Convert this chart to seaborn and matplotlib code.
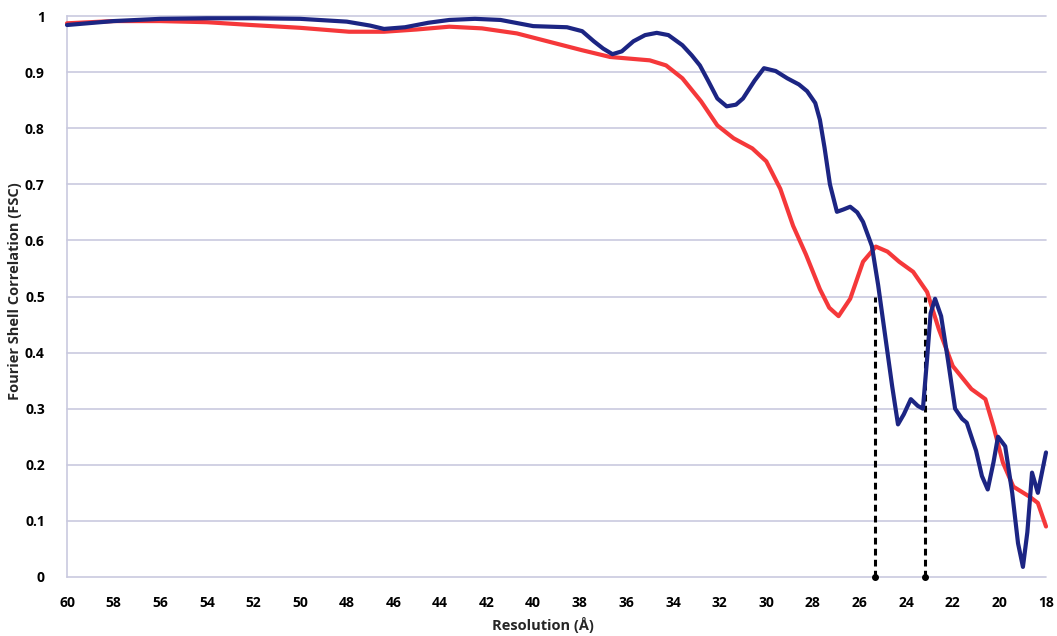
import numpy as np
import pandas as pd
import matplotlib
matplotlib.use("Agg")
import matplotlib.pyplot as plt
import seaborn as sns

# FSC curves vs. resolution (Å)
blue_res = [60, 58, 56, 54, 52, 50, 48, 47, 46.4, 45.5, 44.5, 43.6, 42.5, 41.4, 40, 38.55, 37.9,
            37.4, 37.0, 36.6, 36.2, 35.7, 35.2, 34.7, 34.2, 33.6, 33.2, 32.85, 32.5, 32.1, 31.7,
            31.3, 31.0, 30.5, 30.1, 29.6, 29.1, 28.6, 28.25, 27.9, 27.7, 27.5, 27.27, 26.97, 26.7,
            26.4, 26.1, 25.85, 25.47, 25.2, 24.9, 24.6, 24.35, 24.1, 23.8, 23.5, 23.28, 23.1,
            22.95, 22.76, 22.5, 22.2, 21.9, 21.6, 21.4, 21.0, 20.75, 20.5, 20.25, 20.06, 19.75,
            19.45, 19.2, 18.99, 18.8, 18.6, 18.35, 18.0]
blue_fsc = [0.984, 0.991, 0.995, 0.996, 0.996, 0.995, 0.990, 0.983, 0.977, 0.980, 0.988, 0.993,
            0.995, 0.993, 0.982, 0.980, 0.973, 0.955, 0.942, 0.932, 0.937, 0.955, 0.966, 0.970,
            0.966, 0.948, 0.930, 0.912, 0.885, 0.853, 0.839, 0.842, 0.853, 0.885, 0.907, 0.902,
            0.889, 0.878, 0.866, 0.845, 0.815, 0.765, 0.700, 0.651, 0.655, 0.660, 0.650, 0.633,
            0.590, 0.520, 0.430, 0.340, 0.272, 0.290, 0.317, 0.305, 0.300, 0.390, 0.470, 0.496,
            0.465, 0.385, 0.300, 0.282, 0.275, 0.225, 0.180, 0.156, 0.205, 0.250, 0.233, 0.150,
            0.060, 0.018, 0.080, 0.186, 0.150, 0.222]

red_res = [60, 58, 56, 54, 52.1, 50, 47.9, 46.4, 45, 43.6, 42.2, 40.7, 39.3, 37.9, 36.7, 35.0,
           34.3, 33.6, 32.8, 32.1, 31.4, 30.6, 30.0, 29.4, 28.85, 28.3, 27.7, 27.3, 26.9, 26.4,
           25.85, 25.3, 24.8, 24.3, 23.7, 23.1, 22.6, 22.0, 21.2, 20.6, 20.25, 19.85, 19.4, 18.7,
           18.35, 18.0]
red_fsc = [0.987, 0.991, 0.991, 0.989, 0.984, 0.979, 0.972, 0.972, 0.976, 0.981, 0.978, 0.969,
           0.954, 0.939, 0.927, 0.921, 0.912, 0.889, 0.848, 0.805, 0.782, 0.764, 0.741, 0.692,
           0.626, 0.575, 0.513, 0.480, 0.465, 0.496, 0.562, 0.589, 0.580, 0.562, 0.544, 0.508,
           0.442, 0.376, 0.335, 0.317, 0.268, 0.204, 0.161, 0.143, 0.132, 0.090]

# resolution where each curve falls to the 0.5 threshold
cutoff_res = [25.34, 23.19]
cutoff_fsc = 0.5

x_ticks = list(range(60, 17, -2))
y_ticks = [0, 0.1, 0.2, 0.3, 0.4, 0.5, 0.6, 0.7, 0.8, 0.9, 1]
y_tick_labels = ["0", "0.1", "0.2", "0.3", "0.4", "0.5", "0.6", "0.7", "0.8", "0.9", "1"]

df = pd.concat([
    pd.DataFrame({"res": blue_res, "fsc": blue_fsc, "map": "blue"}),
    pd.DataFrame({"res": red_res, "fsc": red_fsc, "map": "red"}),
])

sns.set_theme(style="white")
plt.rcParams["font.family"] = ["Open Sans", "DejaVu Sans"]

fig = plt.figure(figsize=(10.57, 6.36), dpi=100)
ax = fig.add_axes([0.0634, 0.0928, 0.9262, 0.8820])

grid_color = "#c9c9df"
for yv in y_ticks:
    ax.axhline(yv, color=grid_color, lw=1.2, zorder=0)

for xr in cutoff_res:
    ax.plot([xr, xr], [0, cutoff_fsc], color="black", lw=2.2,
            linestyle=(0, (2.2, 1.4)), zorder=2)
    ax.plot([xr], [0], marker="o", ms=4, color="black", zorder=3, clip_on=False)

sns.lineplot(data=df, x="res", y="fsc", hue="map", sort=False,
             palette={"blue": "#1c2583", "red": "#f5383a"},
             hue_order=["red", "blue"], linewidth=3.0, legend=False, ax=ax, zorder=4)
# draw the blue curve above the red one
for line in ax.get_lines():
    if matplotlib.colors.to_hex(line.get_color()) == "#1c2583":
        line.set_zorder(5)
    line.set_clip_on(False)
    line.set_solid_joinstyle("round")

ax.set_xlim(60, 18)
ax.set_ylim(0, 1)
ax.set_xticks(x_ticks)
ax.set_xticklabels([str(t) for t in x_ticks])
ax.set_yticks(y_ticks)
ax.set_yticklabels(y_tick_labels)

for s in ["top", "right", "bottom"]:
    ax.spines[s].set_visible(False)
ax.spines["left"].set_color(grid_color)
ax.spines["left"].set_linewidth(1.2)

ax.tick_params(axis="x", length=0, pad=14, labelsize=10, colors="black")
ax.tick_params(axis="y", length=0, pad=16, labelsize=10, colors="black")
for lbl in ax.get_xticklabels() + ax.get_yticklabels():
    lbl.set_fontweight("bold")

ax.set_xlabel("Resolution (Å)", fontsize=10.5, fontweight="bold")
ax.xaxis.set_label_coords(0.486, -0.086)
ax.xaxis.label.set_va("center")
ax.set_ylabel("Fourier Shell Correlation (FSC)", fontsize=10.5, fontweight="bold")
ax.yaxis.set_label_coords(-0.053, 0.51)
ax.yaxis.label.set_va("center")

fig.savefig("out.png", dpi=100, facecolor="white")
